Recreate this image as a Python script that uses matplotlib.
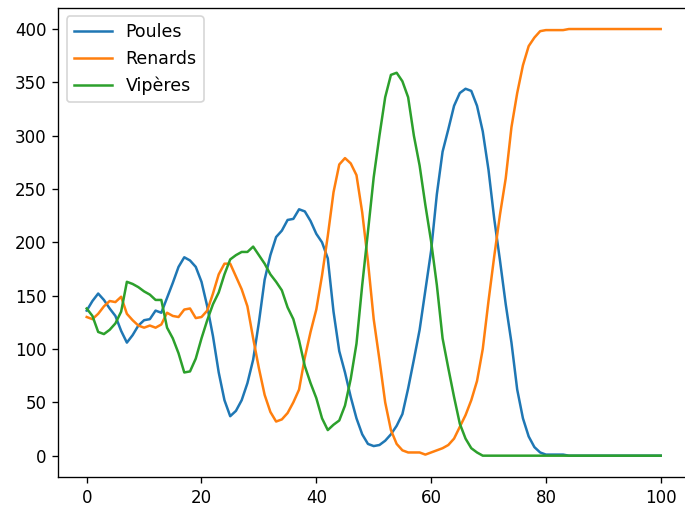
import numpy as np
import matplotlib
matplotlib.use('Agg')
import matplotlib.pyplot as plt

# populations over time (one value per step, 0..100)
temps = list(range(101))

poules = [136, 145, 152, 146, 138, 131, 117, 106, 113, 122,
          127, 128, 136, 134, 148, 162, 177, 186, 183, 177,
          163, 140, 112, 78, 52, 37, 42, 52, 68, 90,
          125, 165, 188, 205, 211, 221, 222, 231, 229, 220,
          208, 200, 185, 135, 98, 78, 55, 35, 20, 11,
          9, 10, 14, 20, 28, 39, 63, 90, 118, 155,
          192, 245, 285, 306, 328, 340, 344, 342, 328, 304,
          268, 222, 183, 142, 106, 62, 35, 18, 8, 3,
          1, 1, 1, 1, 0, 0, 0, 0, 0, 0,
          0, 0, 0, 0, 0, 0, 0, 0, 0, 0, 0]

renards = [130, 128, 133, 140, 145, 144, 149, 133, 127, 122,
           120, 122, 120, 123, 134, 131, 130, 137, 138, 129,
           130, 136, 152, 170, 180, 180, 168, 156, 140, 110,
           82, 57, 41, 32, 34, 40, 50, 62, 92, 116,
           137, 169, 206, 247, 273, 279, 274, 263, 228, 182,
           128, 90, 50, 24, 11, 5, 3, 3, 3, 1,
           3, 5, 7, 10, 16, 27, 38, 52, 70, 100,
           145, 187, 226, 260, 308, 340, 366, 384, 392, 398,
           399, 399, 399, 399, 400, 400, 400, 400, 400, 400,
           400, 400, 400, 400, 400, 400, 400, 400, 400, 400, 400]

viperes = [138, 131, 116, 114, 118, 124, 135, 163, 161, 158,
           154, 151, 146, 146, 120, 110, 96, 78, 79, 91,
           110, 127, 142, 153, 170, 184, 188, 191, 191, 196,
           188, 180, 170, 163, 155, 139, 128, 108, 84, 68,
           54, 35, 24, 29, 33, 47, 72, 105, 160, 210,
           261, 300, 336, 357, 359, 351, 336, 300, 272, 235,
           201, 160, 110, 82, 55, 30, 16, 7, 3, 0,
           0, 0, 0, 0, 0, 0, 0, 0, 0, 0,
           0, 0, 0, 0, 0, 0, 0, 0, 0, 0,
           0, 0, 0, 0, 0, 0, 0, 0, 0, 0, 0]

fig = plt.figure(figsize=(685/120, 506/120), dpi=120)
# axes runs a bit past the right edge, like the reference crop
ax = fig.add_axes([58/685, 29/506, 631.4/685, 469.3/506])

ax.plot(temps, poules, label='Poules')
ax.plot(temps, renards, label='Renards')
ax.plot(temps, viperes, label='Vipères')

ax.set_xticks([0, 20, 40, 60, 80, 100])
ax.set_yticks(np.arange(0, 401, 50))
ax.legend(loc='upper left', fontsize=10.4, handlelength=2.2)

plt.savefig('out.png', dpi=120)
